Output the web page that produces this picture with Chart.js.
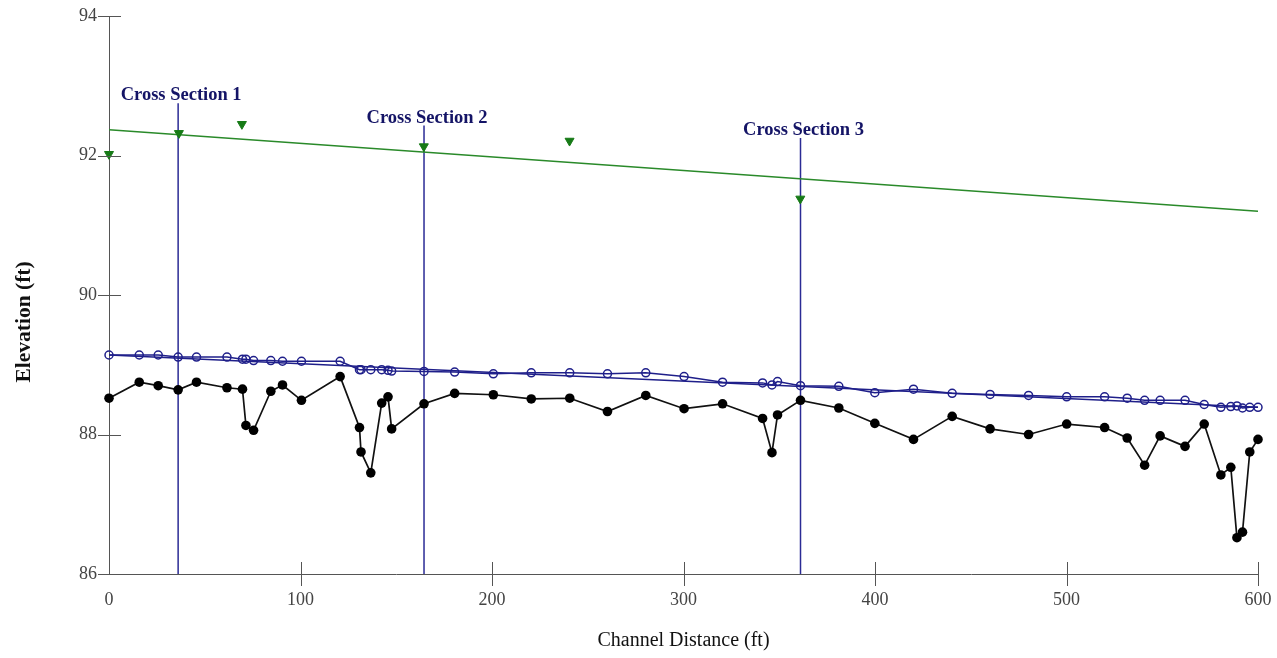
<!DOCTYPE html>
<html>
<head>
<meta charset="utf-8">
<title>Channel Profile</title>
<script src="https://cdn.jsdelivr.net/npm/chart.js@4.4.1/dist/chart.umd.min.js"></script>
<style>
  html, body { margin: 0; padding: 0; background: #ffffff; }
  #wrap { width: 1277px; height: 658px; position: relative; }
</style>
</head>
<body>
<div id="wrap"><canvas id="profile"></canvas></div>
<script>
(function () {
  'use strict';

  // ── Survey stations along the channel (ft) ──
  var stations = [0, 15.8, 25.7, 36.1, 45.7, 61.6, 69.7, 71.5, 75.5, 84.5, 90.6, 100.5, 120.7,
    130.8, 131.6, 136.7, 142.4, 145.7, 147.6, 164.5, 180.5, 200.7, 220.5, 240.6, 260.3, 280.3,
    300.3, 320.4, 341.3, 346.2, 349.1, 361.1, 381.1, 399.9, 420.1, 440.3, 460.1, 480.2, 500.1,
    519.9, 531.7, 540.8, 548.9, 561.9, 571.9, 580.6, 585.8, 589, 591.9, 595.7, 600];

  // ── Thalweg / bed elevation (ft) ──
  var bedElev = [88.52, 88.75, 88.70, 88.64, 88.75, 88.67, 88.65, 88.13, 88.06, 88.62, 88.71, 88.49, 88.83,
    88.10, 87.75, 87.45, 88.45, 88.54, 88.08, 88.44, 88.59, 88.57, 88.51, 88.52, 88.33, 88.56,
    88.37, 88.44, 88.23, 87.74, 88.28, 88.49, 88.38, 88.16, 87.93, 88.26, 88.08, 88.00, 88.15,
    88.10, 87.95, 87.56, 87.98, 87.83, 88.15, 87.42, 87.53, 86.52, 86.60, 87.75, 87.93];

  // ── Bankfull elevation at each station (ft) ──
  var bankElev = [89.14, 89.14, 89.14, 89.11, 89.11, 89.11, 89.08, 89.08, 89.06, 89.06, 89.05, 89.05, 89.05,
    88.93, 88.93, 88.93, 88.93, 88.92, 88.91, 88.905, 88.895, 88.87, 88.885, 88.885, 88.87, 88.885,
    88.83, 88.75, 88.74, 88.71, 88.76, 88.70, 88.69, 88.60, 88.65, 88.59, 88.575, 88.56, 88.54,
    88.54, 88.52, 88.49, 88.49, 88.49, 88.43, 88.39, 88.40, 88.41, 88.38, 88.39, 88.39];

  // ── Bankfull slope line ──
  var bankTrendStations = [0, 600];
  var bankTrendElev = [89.14, 88.39];

  // ── Water surface slope line ──
  var wsStations = [0, 600];
  var wsElev = [92.37, 91.20];

  // ── High water marks ──
  var hwmStations = [0, 36.5, 69.4, 164.4, 240.5, 361.0];
  var hwmElev = [92.02, 92.32, 92.45, 92.13, 92.21, 91.38];

  // ── Cross section locations ──
  var xsStations = [36.1, 164.5, 361.1];
  var xsTop = [92.75, 92.43, 92.25];
  var xsLabels = ['Cross Section 1', 'Cross Section 2', 'Cross Section 3'];

  // ── Axis ticks ──
  var xTicks = [0, 100, 200, 300, 400, 500, 600];
  var yTicks = [86, 88, 90, 92, 94];

  var navy = '#1f1f8a';
  var serif = "'Liberation Serif', 'Times New Roman', serif";

  function pairs(xs, ys) {
    return xs.map(function (x, i) { return { x: x, y: ys[i] }; });
  }

  var datasets = [];

  // vertical cross-section markers, drawn beneath everything else
  xsStations.forEach(function (s, i) {
    datasets.push({
      label: xsLabels[i],
      data: [{ x: s, y: yTicks[0] }, { x: s, y: xsTop[i] }],
      showLine: true,
      borderColor: '#2b2b95',
      borderWidth: 1.5,
      pointRadius: 0,
      order: 10
    });
  });

  datasets.push({
    label: 'Water Surface',
    data: pairs(wsStations, wsElev),
    showLine: true,
    borderColor: '#2a8a2a',
    borderWidth: 1.5,
    pointRadius: 0,
    order: 8
  });

  datasets.push({
    label: 'High Water Marks',
    data: pairs(hwmStations, hwmElev),
    showLine: false,
    pointStyle: 'triangle',
    rotation: 180,
    pointRadius: 5.2,
    backgroundColor: '#167a16',
    borderColor: '#167a16',
    borderWidth: 1,
    order: 7
  });

  datasets.push({
    label: 'Bankfull Slope',
    data: pairs(bankTrendStations, bankTrendElev),
    showLine: true,
    borderColor: navy,
    borderWidth: 1.5,
    pointRadius: 0,
    order: 6
  });

  datasets.push({
    label: 'Bankfull',
    data: pairs(stations, bankElev),
    showLine: true,
    borderColor: navy,
    borderWidth: 1.5,
    pointRadius: 4,
    pointBorderWidth: 1.5,
    pointBackgroundColor: 'rgba(0,0,0,0)',
    pointBorderColor: navy,
    order: 5
  });

  datasets.push({
    label: 'Thalweg',
    data: pairs(stations, bedElev),
    showLine: true,
    borderColor: '#111111',
    borderWidth: 1.7,
    pointRadius: 4.8,
    pointBackgroundColor: '#000000',
    pointBorderColor: '#000000',
    pointBorderWidth: 0,
    order: 1
  });

  datasets.forEach(function (d) { d.clip = false; d.tension = 0; });

  // ── Tick marks crossing the axes, axis titles, section labels ──
  var decorPlugin = {
    id: 'profileDecor',
    afterDraw: function (chart) {
      var ctx = chart.ctx;
      var xs = chart.scales.x;
      var ys = chart.scales.y;
      var area = chart.chartArea;

      ctx.save();
      ctx.strokeStyle = '#555555';
      ctx.lineWidth = 1;
      ctx.beginPath();
      yTicks.forEach(function (v) {
        var py = Math.round(ys.getPixelForValue(v)) + 0.5;
        ctx.moveTo(area.left - 11, py);
        ctx.lineTo(area.left + 12, py);
      });
      xTicks.forEach(function (v) {
        if (v === 0) return;
        var px = Math.round(xs.getPixelForValue(v)) + 0.5;
        ctx.moveTo(px, area.bottom - 12);
        ctx.lineTo(px, area.bottom + 12);
      });
      ctx.stroke();

      // section labels above each marker line
      ctx.fillStyle = '#141466';
      ctx.font = 'bold 18.5px ' + serif;
      ctx.textAlign = 'center';
      ctx.textBaseline = 'alphabetic';
      xsStations.forEach(function (s, i) {
        var px = xs.getPixelForValue(s) + 3;
        var py = ys.getPixelForValue(xsTop[i]) - 3;
        ctx.fillText(xsLabels[i], px, py);
      });

      // axis titles
      ctx.fillStyle = '#111111';
      ctx.textBaseline = 'middle';
      ctx.font = '20px ' + serif;
      ctx.fillText('Channel Distance (ft)', (area.left + area.right) / 2, 641);

      ctx.translate(24, 322);
      ctx.rotate(-Math.PI / 2);
      ctx.font = 'bold 21.5px ' + serif;
      ctx.fillText('Elevation (ft)', 0, 0);
      ctx.restore();
    }
  };

  var tickFont = { family: serif, size: 18 };

  new Chart(document.getElementById('profile').getContext('2d'), {
    type: 'scatter',
    data: { datasets: datasets },
    options: {
      responsive: true,
      maintainAspectRatio: false,
      animation: false,
      events: [],
      layout: { padding: { top: 16, right: 19, left: 0, bottom: 0 } },
      plugins: {
        legend: { display: false },
        tooltip: { enabled: false }
      },
      scales: {
        x: {
          type: 'linear',
          min: 0,
          max: 600,
          afterFit: function (scale) {
            scale.height = 84;
            scale.paddingLeft = 0;
            scale.paddingRight = 0;
          },
          afterBuildTicks: function (scale) {
            scale.ticks = xTicks.map(function (v) { return { value: v }; });
          },
          grid: { display: false, drawTicks: false },
          border: { display: true, color: '#555555', width: 1 },
          ticks: { color: '#444444', font: tickFont, padding: 15, maxRotation: 0 }
        },
        y: {
          type: 'linear',
          min: 86,
          max: 94,
          afterFit: function (scale) {
            scale.width = 109;
            scale.paddingTop = 0;
            scale.paddingBottom = 0;
          },
          afterBuildTicks: function (scale) {
            scale.ticks = yTicks.map(function (v) { return { value: v }; });
          },
          grid: { display: false, drawTicks: false },
          border: { display: true, color: '#555555', width: 1 },
          ticks: { color: '#444444', font: tickFont, padding: 12 }
        }
      }
    },
    plugins: [decorPlugin]
  });
})();
</script>
</body>
</html>
